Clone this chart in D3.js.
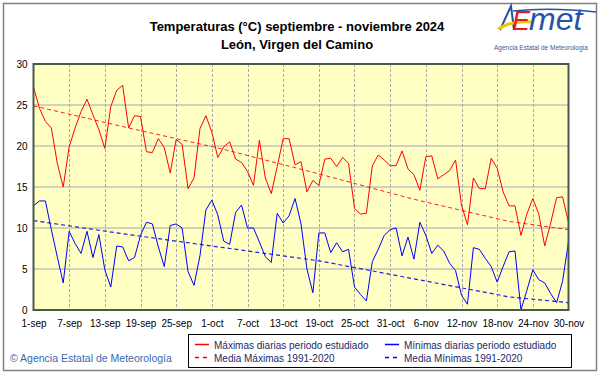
<!DOCTYPE html>
<html>
<head>
<meta charset="utf-8">
<script src="https://cdn.jsdelivr.net/npm/d3@7"></script>
<style>
  body { margin: 0; background: #fff; }
  svg { display: block; font-family: "Liberation Sans", Arial, sans-serif; }
</style>
</head>
<body>
<div id="chart"></div>
<script>
// daily values, 1-sep .. 30-nov 2024
var startDate = new Date(Date.UTC(2024, 8, 1));

var maxT = [27.2,24.6,23.0,22.2,17.9,15.0,19.9,22.2,24.2,25.7,
  23.8,22.0,19.7,24.8,26.8,27.4,22.2,23.7,23.6,19.3,
  19.2,20.9,19.8,16.7,20.8,20.2,14.8,16.1,22.1,23.7,
  21.7,18.6,19.9,20.5,18.4,18.0,16.9,15.2,20.7,16.1,
  14.2,17.5,20.9,20.9,17.7,18.1,14.4,15.8,15.2,18.4,
  18.5,17.5,18.6,17.9,12.4,11.7,11.8,17.6,18.9,18.3,
  17.6,17.6,19.4,17.2,16.5,14.6,18.7,18.8,16.0,16.5,
  17.0,18.3,12.8,10.4,16.1,14.8,14.8,18.5,17.3,14.4,
  12.7,12.7,9.1,11.7,13.6,11.7,7.8,10.6,13.7,13.8,10.7];

var minT = [12.7,13.3,13.3,9.8,6.5,3.3,9.6,8.1,6.9,9.6,
  6.4,9.2,4.9,2.8,7.8,7.7,6.0,6.4,9.1,10.7,
  10.5,7.7,5.3,10.3,10.5,10.0,4.7,3.0,6.6,12.2,
  13.4,11.6,8.4,8.0,11.9,12.8,10.0,10.0,8.3,6.5,
  5.8,11.8,10.6,11.5,13.6,10.5,5.0,2.1,9.4,9.4,
  7.0,8.2,7.1,7.4,2.8,1.9,1.1,5.9,7.4,9.1,
  9.8,10.0,6.6,8.9,6.2,10.7,9.1,6.9,7.9,7.2,
  5.7,4.8,1.8,0.7,7.6,7.4,6.3,5.3,3.4,5.3,
  7.1,7.2,0.0,2.4,4.9,3.7,3.3,2.0,0.9,3.5,8.3];

// 1991-2020 normals, read at a few days (day index from 1-sep)
var normDays = [0, 16, 32, 48, 64, 80, 90];
var normMax  = [24.9, 22.2, 19.6, 16.6, 13.5, 10.8, 9.8];
var normMin  = [10.9, 9.2, 7.6, 6.0, 3.8, 1.6, 0.9];

var tickLabels = ["1-sep","7-sep","13-sep","19-sep","25-sep","1-oct","7-oct","13-oct",
  "19-oct","25-oct","31-oct","6-nov","12-nov","18-nov","24-nov","30-nov"];
var yTicks = [0, 5, 10, 15, 20, 25, 30];

function dayDate(i) { return d3.utcDay.offset(startDate, i); }

var svgWidth = 601, svgHeight = 374;
var plot = { left: 33.5, right: 568.5, top: 64, bottom: 310 };

var svg = d3.select("#chart").append("svg")
  .attr("width", svgWidth)
  .attr("height", svgHeight);

// outer frame
svg.append("rect")
  .attr("x", 3.5).attr("y", 3.5)
  .attr("width", 593).attr("height", 367)
  .attr("fill", "#fff")
  .attr("stroke", "#808080")
  .attr("stroke-width", 1.5);

var x = d3.scaleUtc()
  .domain([startDate, dayDate(90)])
  .range([plot.left, plot.right]);
var y = d3.scaleLinear()
  .domain([0, 30])
  .range([plot.bottom, plot.top]);

var tickDates = tickLabels.map(function(d, i) { return dayDate(i * 6); });

// plot background
svg.append("rect")
  .attr("x", plot.left).attr("y", plot.top)
  .attr("width", plot.right - plot.left)
  .attr("height", plot.bottom - plot.top)
  .attr("fill", "#ffffc4");

// horizontal grid
svg.append("g").selectAll("line")
  .data(yTicks.slice(1, -1))
  .enter().append("line")
  .attr("x1", plot.left).attr("x2", plot.right)
  .attr("y1", function(d) { return y(d); })
  .attr("y2", function(d) { return y(d); })
  .attr("stroke", "#a4a4b4")
  .attr("stroke-width", 1);

// vertical grid
svg.append("g").selectAll("line")
  .data(tickDates.slice(1, -1))
  .enter().append("line")
  .attr("x1", function(d) { return Math.round(x(d)) + 0.5; })
  .attr("x2", function(d) { return Math.round(x(d)) + 0.5; })
  .attr("y1", plot.top).attr("y2", plot.bottom)
  .attr("stroke", "#a8a8a8")
  .attr("stroke-dasharray", "3,2");

// normals (dashed)
var normLine = d3.line()
  .x(function(d) { return x(dayDate(d[0])); })
  .y(function(d) { return y(d[1]); });

svg.append("path")
  .datum(normDays.map(function(d, i) { return [d, normMax[i]]; }))
  .attr("d", normLine)
  .attr("fill", "none")
  .attr("stroke", "#ff2020")
  .attr("stroke-width", 1)
  .attr("stroke-dasharray", "4,3");

svg.append("path")
  .datum(normDays.map(function(d, i) { return [d, normMin[i]]; }))
  .attr("d", normLine)
  .attr("fill", "none")
  .attr("stroke", "#2020e0")
  .attr("stroke-width", 1.2)
  .attr("stroke-dasharray", "4,3");

// daily series
var dayLine = d3.line()
  .x(function(d, i) { return x(dayDate(i)); })
  .y(function(d) { return y(d); });

svg.append("path")
  .datum(maxT)
  .attr("d", dayLine)
  .attr("fill", "none")
  .attr("stroke", "#ff0000")
  .attr("stroke-width", 1);

svg.append("path")
  .datum(minT)
  .attr("d", dayLine)
  .attr("fill", "none")
  .attr("stroke", "#0000ff")
  .attr("stroke-width", 1);

// plot border
svg.append("rect")
  .attr("x", plot.left).attr("y", plot.top)
  .attr("width", plot.right - plot.left)
  .attr("height", plot.bottom - plot.top)
  .attr("fill", "none")
  .attr("stroke", "#4a5a48")
  .attr("stroke-width", 2);

// axes
var yAxis = d3.axisLeft(y).tickValues(yTicks).tickSize(0).tickPadding(6);
svg.append("g")
  .attr("transform", "translate(" + plot.left + ",0)")
  .call(yAxis)
  .call(function(g) { g.select(".domain").remove(); })
  .selectAll("text")
  .attr("font-size", 10)
  .attr("font-family", "Liberation Sans, Arial, sans-serif")
  .attr("fill", "#000");

var xAxis = d3.axisBottom(x).tickValues(tickDates).tickSize(0).tickPadding(10)
  .tickFormat(function(d, i) { return tickLabels[i]; });
svg.append("g")
  .attr("transform", "translate(0," + plot.bottom + ")")
  .call(xAxis)
  .call(function(g) { g.select(".domain").remove(); })
  .selectAll("text")
  .attr("font-size", 10)
  .attr("font-family", "Liberation Sans, Arial, sans-serif")
  .attr("fill", "#000");

// title
svg.append("text")
  .attr("x", 297).attr("y", 31)
  .attr("text-anchor", "middle")
  .attr("font-size", 13).attr("font-weight", "bold")
  .text("Temperaturas (°C) septiembre - noviembre 2024");
svg.append("text")
  .attr("x", 297).attr("y", 49)
  .attr("text-anchor", "middle")
  .attr("font-size", 13).attr("font-weight", "bold")
  .text("León, Virgen del Camino");

// logo
var logo = svg.append("g");
logo.append("path")
  .attr("d", "M500,30 L511,6 L514,30")
  .attr("fill", "none").attr("stroke", "#2850a8").attr("stroke-width", 2);
logo.append("path")
  .attr("d", "M498,29 Q512,20 532,22")
  .attr("fill", "none").attr("stroke", "#f0c800").attr("stroke-width", 3);
logo.append("text")
  .attr("x", 512).attr("y", 30)
  .attr("font-size", 27).attr("font-style", "italic")
  .attr("fill", "#e02020")
  .text("E");
logo.append("text")
  .attr("x", 529).attr("y", 30)
  .attr("font-size", 32).attr("font-style", "italic")
  .attr("fill", "#2850a8")
  .text("met");
logo.append("path")
  .attr("d", "M513,11 Q550,7 596,12")
  .attr("fill", "none").attr("stroke", "#2850a8").attr("stroke-width", 1.5);
logo.append("text")
  .attr("x", 541).attr("y", 50)
  .attr("text-anchor", "middle")
  .attr("font-size", 6.5)
  .attr("fill", "#3a5aa0")
  .text("Agencia Estatal de Meteorología");

// copyright
svg.append("text")
  .attr("x", 10).attr("y", 362)
  .attr("font-size", 10.5)
  .attr("fill", "#3a68b0")
  .text("© Agencia Estatal de Meteorología");

// legend
var legend = svg.append("g");
legend.append("rect")
  .attr("x", 188.5).attr("y", 334.5)
  .attr("width", 383).attr("height", 33)
  .attr("fill", "#fff")
  .attr("stroke", "#000");

var legendItems = [
  { label: "Máximas diarias periodo estudiado", color: "#ff0000", dash: null, col: 0, row: 0 },
  { label: "Media Máximas 1991-2020", color: "#ff0000", dash: "4,4", col: 0, row: 1 },
  { label: "Mínimas diarias periodo estudiado", color: "#0000ff", dash: null, col: 1, row: 0 },
  { label: "Media Mínimas 1991-2020", color: "#0000ff", dash: "4,4", col: 1, row: 1 }
];
var legRows = legend.selectAll("g.item")
  .data(legendItems)
  .enter().append("g")
  .attr("class", "item")
  .attr("transform", function(d) {
    return "translate(" + (195 + d.col * 190) + "," + (345 + d.row * 13) + ")";
  });
legRows.append("line")
  .attr("x1", 0).attr("x2", 14)
  .attr("y1", -0.5).attr("y2", -0.5)
  .attr("stroke", function(d) { return d.color; })
  .attr("stroke-width", 1.5)
  .attr("stroke-dasharray", function(d) { return d.dash; });
legRows.append("text")
  .attr("x", 19).attr("y", 3.5)
  .attr("font-size", 10)
  .attr("fill", "#1a2a6a")
  .text(function(d) { return d.label; });
</script>
</body>
</html>
